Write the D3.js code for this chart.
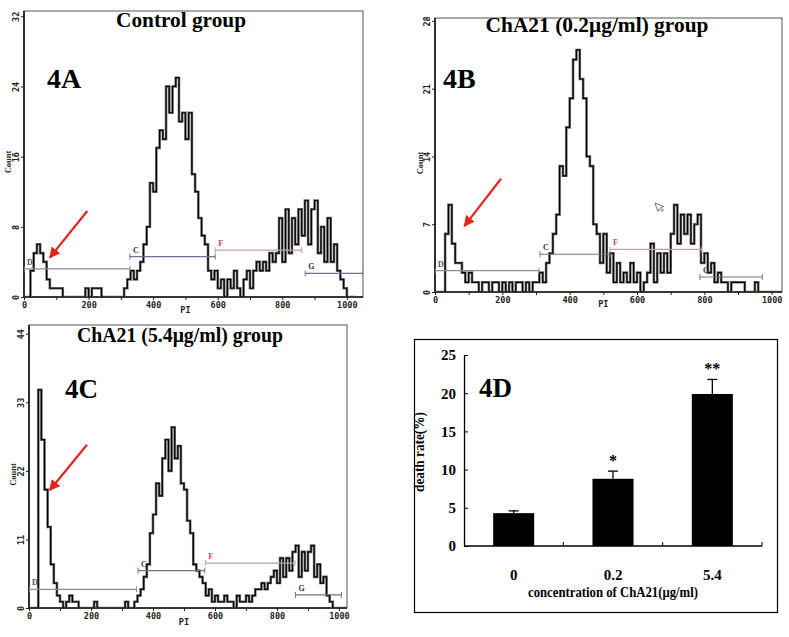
<!DOCTYPE html>
<html><head><meta charset="utf-8">
<script src="https://cdn.jsdelivr.net/npm/d3@7"></script>
<style>body{margin:0;background:#fff}</style>
</head><body>
<svg id="fig" width="789" height="637"></svg>
<script>
// ---------------- DATA ----------------
const binWidth = 10; // PI units per histogram bin (bins start at PI 0)
const countsControl = [0,0,3,5,6,5,4,2,1,1,
 1,1,0,0,0,0,0,0,0,1,
 0,1,1,1,0,0,0,0,0,0,
 0,1,2,3,2,3,4,6,8,13,
 12,17,19,18,24,21,24,25,20,21,
 18,21,14,12,9,7,6,3,2,3,
 1,2,0,2,1,3,1,0,2,3,
 1,3,4,3,4,3,5,4,5,9,
 4,10,5,9,6,10,7,11,6,10,
 11,5,8,4,9,4,6,3,2,1,
 0,0,0];
const countsLow = [0,0,0,6,9,5,3,3,2,1,
 2,1,1,0,1,1,0,1,1,0,
 1,0,1,0,1,1,0,1,0,1,
 1,2,1,3,4,6,8,13,12,17,
 20,24,25,22,20,14,13,7,6,3,
 6,2,4,1,3,1,2,1,3,1,
 2,0,1,2,5,1,4,2,4,2,
 6,9,5,8,6,8,5,7,8,3,
 4,2,3,1,2,1,1,0,1,1,
 1,1,0,0,0,1,0,0,0,0,
 0,0,0];
const countsHigh = [0,0,0,35,27,19,13,7,4,2,
 1,0,1,2,1,1,0,0,0,0,
 0,1,0,0,0,0,0,0,0,0,
 0,1,0,0,1,2,3,5,7,12,
 15,20,18,24,27,22,29,24,26,20,
 19,14,12,7,6,5,4,2,3,1,
 2,1,1,2,1,1,0,2,1,1,
 2,1,2,3,3,4,3,4,5,6,
 4,8,5,8,6,9,10,5,9,6,
 9,10,5,7,4,5,2,1,0,0,
 0,0,0];

const histTitles = ["Control group", "ChA21 (0.2μg/ml) group", "ChA21 (5.4μg/ml) group"];
const panelTags = ["4A", "4B", "4C", "4D"];
const xMinorTicks = [0,100,200,300,400,500,600,700,800,900,1000];
const xLabelTicks = [0,200,400,600,800,1000];
const yTicksControl = [0,8,16,24,32];
const yTicksLow = [0,7,14,21,28];
const yTicksHigh = [0,11,22,33,44];

// gate markers: name, start PI, end PI, count level
const markersControl = [
  {name:"D", start:0,   end:328,  level:3.2},
  {name:"C", start:328, end:592,  level:4.6},
  {name:"F", start:592, end:860,  level:5.35},
  {name:"G", start:871, end:1050, level:2.7}];
const markersLow = [
  {name:"D", start:0,   end:309, level:2.2},
  {name:"C", start:312, end:520, level:3.9},
  {name:"F", start:520, end:792, level:4.4},
  {name:"G", start:787, end:972, level:1.55}];
const markersHigh = [
  {name:"D", start:0,   end:347,  level:3.0},
  {name:"C", start:352, end:567,  level:6.0},
  {name:"F", start:569, end:858,  level:7.2},
  {name:"G", start:860, end:1008, level:2.1}];

// red arrows (tail -> tip) in data units
const arrowControl = {fromPI:196, fromCount:9.8,  toPI:80, toCount:4.5};
const arrowLow     = {fromPI:196, fromCount:11.7, toPI:87, toCount:6.8};
const arrowHigh    = {fromPI:187, fromCount:26.2, toPI:67, toCount:18.9};
const cursorLow    = {pi:653, count:9.2};

// bar chart
const concentrations = ["0", "0.2", "5.4"];
const deathRate = [4.3, 8.8, 19.9];
const deathRateErr = [0.3, 1.0, 1.9];
const significance = ["", "*", "**"];
const barYTicks = [0,5,10,15,20,25];

// ---------------- STYLE / LAYOUT ----------------
const serif = "'Liberation Serif','Times New Roman',serif";
const mono = "'DejaVu Sans Mono',monospace";
const markerLine = {D:"#8f8a9e", C:"#707090", F:"#c99c9c", G:"#707090"};
const markerText = {D:"#6a3f6a", C:"#2f2f5e", F:"#b24a4a", G:"#2f2f5e"};

const svg = d3.select("#fig");
svg.append("rect").attr("width",789).attr("height",637).attr("fill","#fff");

const defs = svg.append("defs");
defs.append("marker").attr("id","redhead").attr("viewBox","0 0 10 10")
  .attr("refX",9).attr("refY",5).attr("markerWidth",5).attr("markerHeight",5)
  .attr("markerUnits","strokeWidth").attr("orient","auto")
  .append("path").attr("d","M0,0 L10,5 L0,10 Z").attr("fill","#e8231f");

function drawHist(cfg) {
  const g = svg.append("g");
  const x = d3.scaleLinear().domain([0, cfg.xMax]).range([cfg.left, cfg.right]);
  const y = d3.scaleLinear().domain([0, cfg.yMax]).range([cfg.bottom, cfg.top]);
  const clipId = "clip" + cfg.tag;
  defs.append("clipPath").attr("id", clipId).append("rect")
    .attr("x", cfg.left).attr("y", cfg.top).attr("width", cfg.right - cfg.left).attr("height", cfg.bottom - cfg.top);

  // frame
  g.append("rect").attr("x", cfg.left).attr("y", cfg.top)
    .attr("width", cfg.right - cfg.left).attr("height", cfg.bottom - cfg.top)
    .attr("fill","none").attr("stroke","#555").attr("stroke-width",1);
  g.append("line").attr("x1",cfg.left).attr("x2",cfg.left).attr("y1",cfg.top).attr("y2",cfg.bottom)
    .attr("stroke","#111").attr("stroke-width",1.6);
  g.append("line").attr("x1",cfg.left).attr("x2",cfg.right).attr("y1",cfg.bottom).attr("y2",cfg.bottom)
    .attr("stroke","#111").attr("stroke-width",1.6);

  // x axis
  const xa = g.append("g").attr("transform",`translate(0,${cfg.bottom})`)
    .call(d3.axisBottom(x).tickValues(xMinorTicks).tickSize(3).tickPadding(2)
      .tickFormat(d => xLabelTicks.includes(d) ? d : ""));
  xa.select(".domain").remove();
  xa.selectAll("line").attr("stroke","#222");
  xa.selectAll("text").attr("font-family", mono).attr("font-weight","bold")
    .attr("font-size", 8.5).attr("fill","#222");

  // y axis (rotated labels)
  const ya = g.append("g").attr("transform",`translate(${cfg.left},0)`)
    .call(d3.axisLeft(y).tickValues(cfg.yTicks).tickSize(3));
  ya.select(".domain").remove();
  ya.selectAll("line").attr("stroke","#222");
  ya.selectAll("text").attr("x", null).attr("dy", null).attr("text-anchor","middle")
    .attr("transform","translate(-5,0) rotate(-90)")
    .attr("font-family", mono).attr("font-weight","bold").attr("font-size", 8.5).attr("fill","#222");

  // axis titles
  g.append("text").attr("transform",`translate(${cfg.countX},${(cfg.top+cfg.bottom)/2 + 8}) rotate(-90)`)
    .attr("text-anchor","middle").attr("font-family", serif).attr("font-weight","bold")
    .attr("font-size", 8.5).attr("fill","#222").text("Count");
  g.append("text").attr("x", x(500)).attr("y", cfg.bottom + cfg.piDy)
    .attr("text-anchor","middle").attr("font-family", mono).attr("font-weight","bold")
    .attr("font-size", 8.5).attr("fill","#222").text("PI");

  // histogram step line
  const pts = cfg.counts.map((c, i) => [i * binWidth, c]);
  pts.push([cfg.counts.length * binWidth, cfg.counts[cfg.counts.length - 1]]);
  const line = d3.line().x(d => x(d[0])).y(d => y(d[1])).curve(d3.curveStepAfter);
  g.append("path").attr("d", line(pts)).attr("clip-path",`url(#${clipId})`)
    .attr("fill","none").attr("stroke","#707070").attr("stroke-width",2.6);
  g.append("path").attr("d", line(pts)).attr("clip-path",`url(#${clipId})`)
    .attr("fill","none").attr("stroke","#000").attr("stroke-width",1.2);

  // markers
  const mg = g.append("g").attr("clip-path",`url(#${clipId})`);
  cfg.markers.forEach(m => {
    const yy = y(m.level);
    mg.append("line").attr("x1", x(m.start)).attr("x2", x(m.end)).attr("y1", yy).attr("y2", yy)
      .attr("stroke", markerLine[m.name]).attr("stroke-width", 1.2);
    [m.start, m.end].forEach(v => mg.append("line").attr("x1", x(v)).attr("x2", x(v))
      .attr("y1", yy - 3).attr("y2", yy + 3).attr("stroke", markerLine[m.name]).attr("stroke-width", 1));
  });
  cfg.markers.forEach(m => {
    g.append("text").attr("x", x(m.start) + 3).attr("y", y(m.level) - 4)
      .attr("font-family", serif).attr("font-weight","bold").attr("font-size", 8)
      .attr("fill", markerText[m.name]).text(m.name);
  });

  // red arrow
  const a = cfg.arrow;
  g.append("line").attr("x1", x(a.fromPI)).attr("y1", y(a.fromCount))
    .attr("x2", x(a.toPI)).attr("y2", y(a.toCount))
    .attr("stroke","#e8231f").attr("stroke-width",2.2).attr("marker-end","url(#redhead)");

  // title and tag
  g.append("text").attr("x", cfg.titleX).attr("y", cfg.titleY).attr("text-anchor","middle")
    .attr("font-family", serif).attr("font-weight","bold").attr("font-size", cfg.titleSize)
    .attr("textLength", cfg.titleLen).attr("lengthAdjust","spacingAndGlyphs")
    .attr("fill","#000").text(cfg.title);
  g.append("text").attr("x", cfg.tagX).attr("y", cfg.tagY)
    .attr("font-family", serif).attr("font-weight","bold").attr("font-size", cfg.tagSize)
    .attr("fill","#000").text(cfg.tag);
  return {x, y, g};
}

drawHist({tag: panelTags[0], counts: countsControl, markers: markersControl, arrow: arrowControl,
  left:24, right:363, top:11, bottom:297, xMax:1050, yMax:32.6, yTicks: yTicksControl,
  countX:11, piDy:16, title: histTitles[0], titleX:181, titleY:27, titleSize:21, titleLen:130,
  tagX:47, tagY:88, tagSize:28});

const pB = drawHist({tag: panelTags[1], counts: countsLow, markers: markersLow, arrow: arrowLow,
  left:435, right:782, top:18, bottom:292, xMax:1030.6, yMax:28.3, yTicks: yTicksLow,
  countX:423, piDy:15, title: histTitles[1], titleX:597, titleY:32, titleSize:21, titleLen:223,
  tagX:443, tagY:88, tagSize:28});

drawHist({tag: panelTags[2], counts: countsHigh, markers: markersHigh, arrow: arrowHigh,
  left:29, right:347, top:325, bottom:608, xMax:1026, yMax:45.4, yTicks: yTicksHigh,
  countX:16, piDy:17, title: histTitles[2], titleX:180, titleY:342, titleSize:20, titleLen:206,
  tagX:65, tagY:398, tagSize:27});

// mouse cursor in panel B
pB.g.append("path")
  .attr("transform", `translate(${pB.x(cursorLow.pi)},${pB.y(cursorLow.count)}) rotate(-20)`)
  .attr("d","M0,0 L0,9 L2.3,7 L4,10.5 L5.6,9.8 L4,6.4 L7,6.4 Z")
  .attr("fill","#fff").attr("stroke","#666").attr("stroke-width",0.8);

// ---------------- BAR CHART (4D) ----------------
const gD = svg.append("g");
gD.append("rect").attr("x",414.5).attr("y",339.5).attr("width",363).attr("height",273)
  .attr("fill","none").attr("stroke","#000").attr("stroke-width",1.2);
const xb = d3.scaleBand().domain(concentrations).range([464, 762]).paddingInner(0.587).paddingOuter(0.2935);
const yb = d3.scaleLinear().domain([0, 25]).range([546, 355]);

const yAx = gD.append("g").attr("transform","translate(464,0)")
  .call(d3.axisLeft(yb).tickValues(barYTicks).tickSizeInner(-4).tickSizeOuter(0).tickPadding(8));
yAx.select(".domain").attr("stroke","#000").attr("stroke-width",1.3);
yAx.selectAll("line").attr("stroke","#000");
yAx.selectAll("text").attr("font-family", serif).attr("font-weight","bold").attr("font-size",15).attr("fill","#000");

gD.append("line").attr("x1",464).attr("x2",762).attr("y1",yb(0)).attr("y2",yb(0))
  .attr("stroke","#000").attr("stroke-width",1.3);
concentrations.forEach((c, i) => {
  const bx = xb.range()[0] + xb.step() * (i + 1);
  gD.append("line").attr("x1",bx).attr("x2",bx).attr("y1",yb(0)).attr("y2",yb(0) - 4)
    .attr("stroke","#000").attr("stroke-width",1);
});

gD.selectAll("rect.bar").data(deathRate).enter().append("rect").attr("class","bar")
  .attr("x",(d,i)=>xb(concentrations[i])).attr("width",xb.bandwidth())
  .attr("y",d=>yb(d)).attr("height",d=>yb(0)-yb(d)).attr("fill","#000");

deathRate.forEach((d, i) => {
  const cx = xb(concentrations[i]) + xb.bandwidth() / 2;
  gD.append("line").attr("x1",cx).attr("x2",cx).attr("y1",yb(d)).attr("y2",yb(d + deathRateErr[i]))
    .attr("stroke","#000").attr("stroke-width",1.3);
  gD.append("line").attr("x1",cx - 5).attr("x2",cx + 5).attr("y1",yb(d + deathRateErr[i])).attr("y2",yb(d + deathRateErr[i]))
    .attr("stroke","#000").attr("stroke-width",1.3);
  if (significance[i]) {
    gD.append("text").attr("x",cx).attr("y",yb(d + deathRateErr[i]) - 5).attr("text-anchor","middle")
      .attr("font-family", serif).attr("font-weight","bold").attr("font-size",16).text(significance[i]);
  }
  gD.append("text").attr("x",cx).attr("y",580).attr("text-anchor","middle")
    .attr("font-family", serif).attr("font-weight","bold").attr("font-size",15).text(concentrations[i]);
});

gD.append("text").attr("x",613).attr("y",597).attr("text-anchor","middle")
  .attr("font-family", serif).attr("font-weight","bold").attr("font-size",14)
  .attr("textLength",170).attr("lengthAdjust","spacingAndGlyphs").text("concentration of ChA21(μg/ml)");
gD.append("text").attr("transform","translate(424,452) rotate(-90)").attr("text-anchor","middle")
  .attr("font-family", serif).attr("font-weight","bold").attr("font-size",14)
  .attr("textLength",80).attr("lengthAdjust","spacingAndGlyphs").text("death rate(%)");
gD.append("text").attr("x",479).attr("y",397).attr("font-family", serif).attr("font-weight","bold")
  .attr("font-size",27).text(panelTags[3]);
</script>
</body></html>
